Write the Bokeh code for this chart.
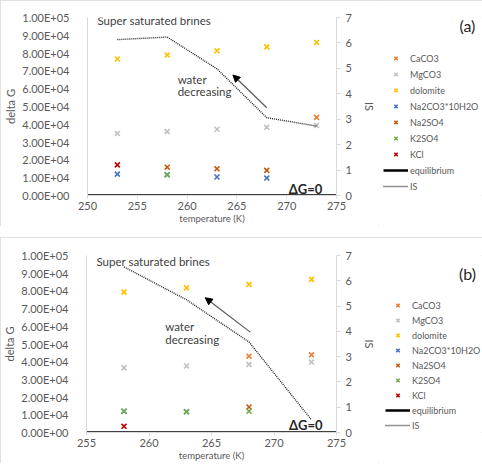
from bokeh.plotting import figure
from bokeh.models import (Range1d, LinearAxis, Legend, LegendItem, Label, Arrow,
                          NormalHead, FixedTicker)
from bokeh.layouts import column, row
from bokeh.embed import file_html
from bokeh.resources import INLINE

FONT = "Lato"
GREY = "#595959"
AXC = "#d9d9d9"

# ---------------- data, panel (a) ----------------
a_caco3_x = [273];                          a_caco3_y = [43900]
a_mgco3_x = [253, 258, 263, 268, 273];      a_mgco3_y = [34800, 35900, 37200, 38300, 39400]
a_dolo_x = [253, 258, 263, 268, 273];       a_dolo_y = [76700, 78900, 81300, 83500, 86000]
a_na2co3_x = [253, 258, 263, 268];          a_na2co3_y = [12000, 11700, 10400, 9800]
a_na2so4_x = [258, 263, 268];               a_na2so4_y = [15900, 15000, 14100]
a_k2so4_x = [258];                          a_k2so4_y = [11700]
a_kcl_x = [253];                            a_kcl_y = [17200]
a_eq_x = [250, 275];                        a_eq_y = [0, 0]
a_is_x = [253, 258, 263, 268, 273];         a_is_y = [6.13, 6.23, 4.98, 3.06, 2.73]

# ---------------- data, panel (b) ----------------
b_caco3_x = [268, 273];                     b_caco3_y = [43100, 43900]
b_mgco3_x = [258, 263, 268, 273];           b_mgco3_y = [36500, 37600, 38500, 39800]
b_dolo_x = [258, 263, 268, 273];            b_dolo_y = [79300, 81700, 83700, 86500]
b_na2co3_x = [258, 263];                    b_na2co3_y = [12000, 11700]
b_na2so4_x = [268];                         b_na2so4_y = [14400]
b_k2so4_x = [258, 263, 268];                b_k2so4_y = [12000, 11700, 12000]
b_kcl_x = [258];                            b_kcl_y = [3500]
b_eq_x = [255, 275];                        b_eq_y = [0, 0]
b_is_x = [258, 263, 268, 273];              b_is_y = [6.55, 5.25, 3.58, 0.5]

names = ["CaCO3", "MgCO3", "dolomite", "Na2CO3*10H2O", "Na2SO4", "K2SO4", "KCl"]
colors = ["#ED7D31", "#C0C0C0", "#FFC000", "#4472C4", "#C55A11", "#70AD47", "#C00000"]

dg_ticks = [0, 10000, 20000, 30000, 40000, 50000, 60000, 70000, 80000, 90000, 100000]
is_ticks = [0, 1, 2, 3, 4, 5, 6, 7]


def draw_series(p, series, eq, iss):
    rs = []
    for (sx, sy), col in zip(series, colors):
        rs.append(p.scatter(sx, sy, marker="x", size=7, line_color=col, line_width=1.6))
    rs.append(p.line(eq[0], eq[1], line_color="black", line_width=2.5))
    rs.append(p.line(iss[0], iss[1], y_range_name="is", line_color="#262626",
                     line_width=1.4, line_dash="1 1"))
    return rs


def make_panel(tag, xlo, xticks, series, eq, iss, height, bt, bb, bl, leg, txt):
    # ---- main chart ----
    p = figure(width=378, height=height, output_backend="svg", toolbar_location=None,
               x_range=Range1d(xlo, 275), y_range=Range1d(0, 100000),
               min_border_left=bl, min_border_right=37, min_border_top=bt,
               min_border_bottom=bb)
    p.extra_y_ranges = {"is": Range1d(0, 7)}
    p.outline_line_color = None
    p.xgrid.visible = False
    p.ygrid.visible = False

    xa = p.xaxis[0]
    xa.ticker = FixedTicker(ticks=xticks)
    xa.axis_line_color = AXC
    xa.major_tick_line_color = AXC
    xa.major_tick_out = 3
    xa.major_tick_in = 0
    xa.minor_tick_line_color = None
    xa.major_label_text_font = FONT
    xa.major_label_text_font_size = "11px"
    xa.major_label_text_color = GREY
    xa.major_label_standoff = 3
    xa.axis_label = "temperature (K)"
    xa.axis_label_text_font = FONT
    xa.axis_label_text_font_size = "9.5px"
    xa.axis_label_text_font_style = "normal"
    xa.axis_label_text_color = GREY
    xa.axis_label_standoff = 0

    ya = p.yaxis[0]
    ya.ticker = FixedTicker(ticks=dg_ticks)
    ya.major_label_overrides = {t: f"{t:.2E}" for t in dg_ticks}
    ya.axis_line_color = AXC
    ya.major_tick_line_color = None
    ya.minor_tick_line_color = None
    ya.major_label_text_font = FONT
    ya.major_label_text_font_size = "11px"
    ya.major_label_text_color = GREY
    ya.major_label_standoff = 12
    ya.axis_label = "delta G"
    ya.axis_label_text_font = FONT
    ya.axis_label_text_font_size = "11px"
    ya.axis_label_text_font_style = "normal"
    ya.axis_label_text_color = GREY
    ya.axis_label_standoff = 2

    ra = LinearAxis(y_range_name="is", ticker=FixedTicker(ticks=is_ticks))
    ra.axis_line_color = AXC
    ra.major_tick_line_color = AXC
    ra.major_tick_out = 4
    ra.major_tick_in = 0
    ra.minor_tick_line_color = None
    ra.major_label_text_font = FONT
    ra.major_label_text_font_size = "11px"
    ra.major_label_text_color = GREY
    ra.major_label_standoff = 5
    ra.axis_label = "IS"
    ra.axis_label_text_font = FONT
    ra.axis_label_text_font_size = "11px"
    ra.axis_label_text_font_style = "normal"
    ra.axis_label_text_color = GREY
    ra.axis_label_standoff = 8
    p.add_layout(ra, "right")

    draw_series(p, series, eq, iss)

    def lab(x, y, text, size, style="normal", color="#404040"):
        p.add_layout(Label(x=x, y=y, text=text, text_font=FONT, text_font_size=size,
                           text_font_style=style, text_color=color, text_align="left",
                           text_baseline="middle"))

    sup, wat, dg, arrow = txt
    lab(sup[0], sup[1], "Super saturated brines", "11.5px")
    lab(wat[0], wat[1], "water", "11.5px")
    lab(wat[0], wat[2], "decreasing", "11.5px")
    lab(dg[0], dg[1], "\u0394G=0", "13px", style="bold", color="#262626")
    p.add_layout(Arrow(x_start=arrow[0], y_start=arrow[1], x_end=arrow[2], y_end=arrow[3],
                       y_range_name="is", line_color=GREY, line_width=1.2,
                       end=NormalHead(size=7, fill_color="black", line_color="black")))

    # ---- legend strip (same series, out-of-view ranges, only the legend shows) ----
    q = figure(width=104, height=height, output_backend="svg", toolbar_location=None,
               x_range=Range1d(0, 1), y_range=Range1d(0, 1),
               x_axis_location=None, y_axis_location=None,
               min_border_left=0, min_border_right=0, min_border_top=bt,
               min_border_bottom=bb)
    q.extra_y_ranges = {"is": Range1d(-10, -9)}
    q.outline_line_color = None
    q.xgrid.visible = False
    q.ygrid.visible = False
    rs = draw_series(q, series, eq, iss)
    items = [LegendItem(label=n, renderers=[r])
             for n, r in zip(names + ["equilibrium", "IS"], rs)]
    legloc, legspacing, tagpos = leg
    lg = Legend(items=items, location=legloc, glyph_width=25, glyph_height=12,
                label_height=12, label_standoff=2, spacing=legspacing, padding=0,
                margin=0, border_line_color=None, background_fill_alpha=0,
                label_text_font=FONT, label_text_font_size="9px",
                label_text_color=GREY)
    q.add_layout(lg, "center")
    q.add_layout(Label(x=tagpos[0], y=tagpos[1], text=tag, text_font=FONT,
                       text_font_size="16px", text_color="#262626",
                       text_align="center", text_baseline="middle"))

    return row(p, q, spacing=0,
               styles={"outline": "1px solid #d9d9d9", "outline-offset": "-1px"})


pa = make_panel("(a)", 250, [250, 255, 260, 265, 270, 275],
                [(a_caco3_x, a_caco3_y), (a_mgco3_x, a_mgco3_y), (a_dolo_x, a_dolo_y),
                 (a_na2co3_x, a_na2co3_y), (a_na2so4_x, a_na2so4_y),
                 (a_k2so4_x, a_k2so4_y), (a_kcl_x, a_kcl_y)],
                (a_eq_x, a_eq_y), (a_is_x, a_is_y),
                226, 17, 29, 87,
                ((5, 3), 4, (0.855, 0.955)),
                ((251.0, 98300), (259.05, 65000, 58300), (270.2, 3900),
                 (268.0, 3.45, 264.6, 4.74)))

pb = make_panel("(b)", 255, [255, 260, 265, 270, 275],
                [(b_caco3_x, b_caco3_y), (b_mgco3_x, b_mgco3_y), (b_dolo_x, b_dolo_y),
                 (b_na2co3_x, b_na2co3_y), (b_na2so4_x, b_na2so4_y),
                 (b_k2so4_x, b_k2so4_y), (b_kcl_x, b_kcl_y)],
                (b_eq_x, b_eq_y), (b_is_x, b_is_y),
                226, 18, 28, 86,
                ((7, 1), 3, (0.855, 0.9)),
                ((255.8, 96700), (261.3, 60000, 52800), (271.2, 4400),
                 (268.1, 3.97, 264.5, 5.33)))

layout = column(pa, pb, spacing=11)
open("out.html", "w").write(file_html(layout, INLINE))
